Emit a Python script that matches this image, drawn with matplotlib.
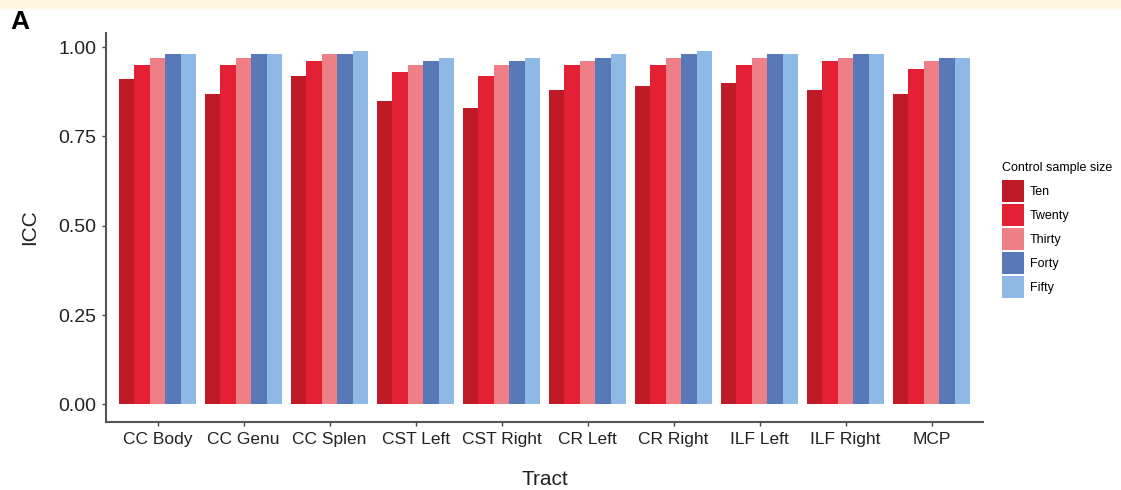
import matplotlib.pyplot as plt
import numpy as np

plt.rcParams['font.family'] = ['Liberation Sans', 'DejaVu Sans']

# Data
tracts = ['CC Body', 'CC Genu', 'CC Splen', 'CST Left', 'CST Right',
          'CR Left', 'CR Right', 'ILF Left', 'ILF Right', 'MCP']
sizes = ['Ten', 'Twenty', 'Thirty', 'Forty', 'Fifty']
ten = [0.91, 0.87, 0.92, 0.85, 0.83, 0.88, 0.89, 0.90, 0.88, 0.87]
twenty = [0.95, 0.95, 0.96, 0.93, 0.92, 0.95, 0.95, 0.95, 0.96, 0.94]
thirty = [0.97, 0.97, 0.98, 0.95, 0.95, 0.96, 0.97, 0.97, 0.97, 0.96]
forty = [0.98, 0.98, 0.98, 0.96, 0.96, 0.97, 0.98, 0.98, 0.98, 0.97]
fifty = [0.98, 0.98, 0.99, 0.97, 0.97, 0.98, 0.99, 0.98, 0.98, 0.97]
colors = ['#BE1A28', '#E32034', '#EF7F87', '#5878B8', '#8EB9E5']

series = [ten, twenty, thirty, forty, fifty]

fig = plt.figure(figsize=(11.21, 4.90), dpi=100)
# yellowish strip at top
fig.patches.append(plt.Rectangle((0, 1 - 8 / 490), 1, 8 / 490, transform=fig.transFigure,
                                 color='#FFF7E0', zorder=0))
ax = fig.add_axes([0.0946, 0.1388, 0.7824, 0.7939])

x = np.arange(1, len(tracts) + 1)
w = 0.9 / len(sizes)
for i, (vals, lab, c) in enumerate(zip(series, sizes, colors)):
    ax.bar(x - 0.45 + w * (i + 0.5), vals, width=w, color=c, label=lab, linewidth=0)

ax.set_xlim(0.4, 10.6)
ax.set_ylim(-0.0495, 1.0395)
ax.set_xticks(x)
ax.set_xticklabels(tracts, fontsize=12.5, color='#222222')
ax.set_yticks([0, 0.25, 0.5, 0.75, 1.0])
ax.set_yticklabels(['0.00', '0.25', '0.50', '0.75', '1.00'], fontsize=14, color='#222222')
ax.tick_params(length=3, width=1, color='#444444', pad=4)
for s in ['top', 'right']:
    ax.spines[s].set_visible(False)
for s in ['left', 'bottom']:
    ax.spines[s].set_color('#555555')
    ax.spines[s].set_linewidth(1.5)

ax.set_xlabel('Tract', fontsize=15, labelpad=17, color='#222222')
ax.set_ylabel('ICC', fontsize=15, labelpad=14, color='#222222')

leg = ax.legend(title='Control sample size', loc='upper left', bbox_to_anchor=(1.022, 0.668),
                frameon=False, fontsize=9, title_fontsize=9, handlelength=1.75,
                handleheight=2.35, handletextpad=0.45, labelspacing=0.15,
                borderpad=0, borderaxespad=0)
leg._legend_box.align = 'left'
leg._legend_box.sep = 4

fig.text(0.009, 0.93, 'A', fontsize=19, fontweight='bold', va='bottom')

fig.savefig('out.png', dpi=100)
